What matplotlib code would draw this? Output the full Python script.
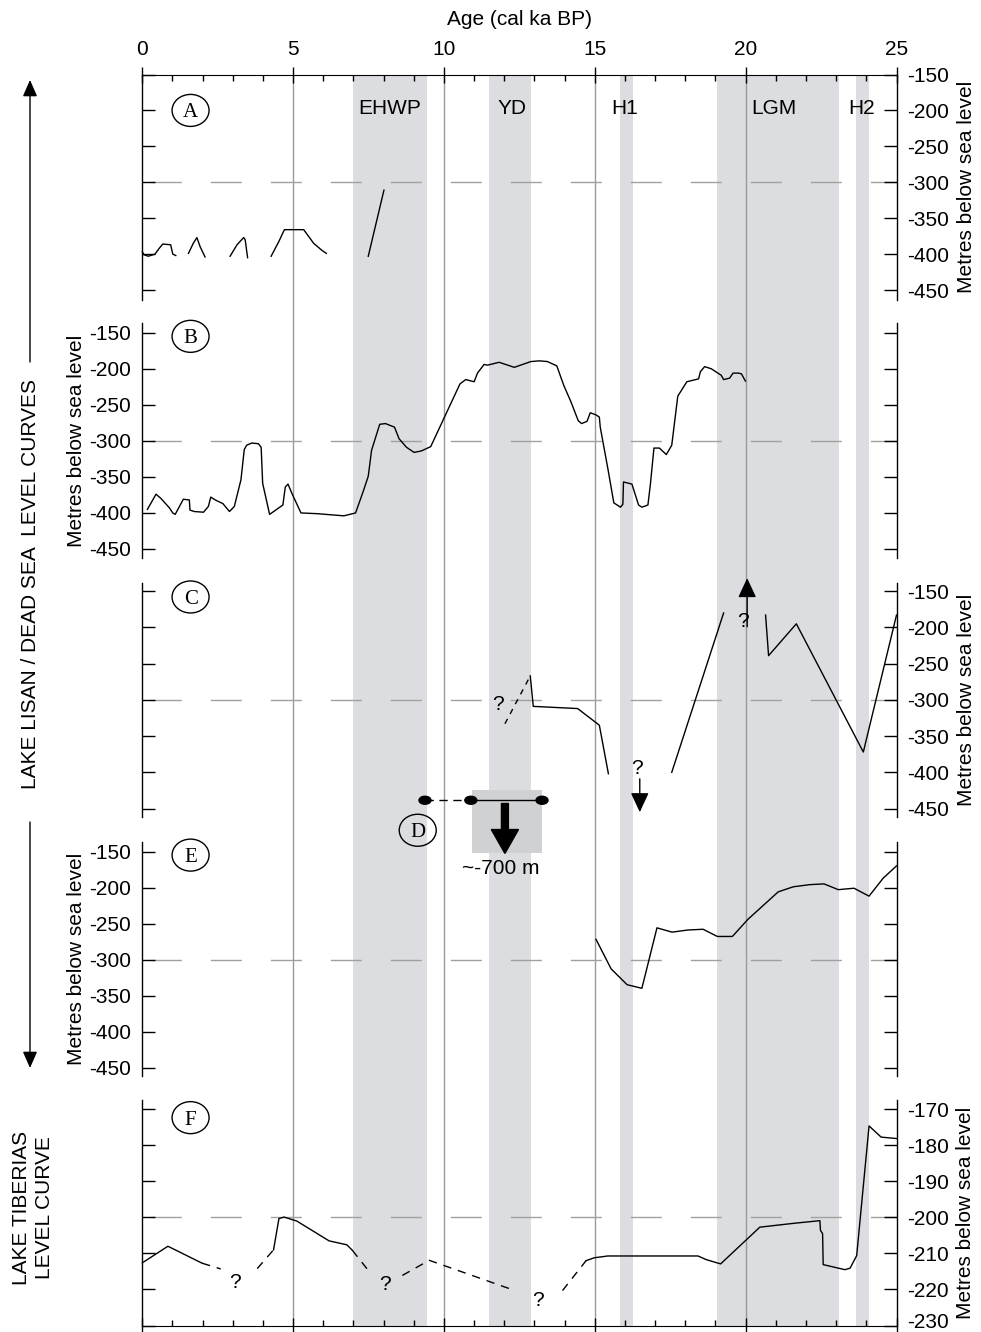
import matplotlib
matplotlib.use('Agg')
import matplotlib.pyplot as plt
from matplotlib.patches import FancyArrow, Rectangle, Ellipse
from matplotlib.ticker import MultipleLocator
from matplotlib.transforms import ScaledTranslation

plt.rcParams['font.family'] = ['Liberation Sans', 'DejaVu Sans']
plt.rcParams['axes.unicode_minus'] = False

# ---------------- data ----------------
age_ticks = [0, 5, 10, 15, 20, 25]
depth_ticks = [-450, -400, -350, -300, -250, -200, -150]
tiberias_ticks = [-230, -220, -210, -200, -190, -180, -170]

band_names = ['EHWP', 'YD', 'H1', 'LGM', 'H2']
band_start = [7.0, 11.5, 15.85, 19.05, 23.65]
band_end = [9.45, 12.9, 16.25, 23.1, 24.1]
band_label_x = [8.2, 12.25, 16.0, 20.95, 23.85]
grid_ages = [5, 10, 15, 20]

# Panel A (segments)
a1_age = [0.0, 0.06, 0.2, 0.42, 0.56, 0.68, 0.94, 1.01, 1.11]
a1_lvl = [-397, -401, -403, -400, -392, -386, -387, -400, -402]
a2_age = [1.53, 1.69, 1.81, 1.92, 2.08]
a2_lvl = [-399, -385, -377, -390, -404]
a3_age = [2.91, 3.14, 3.36, 3.41, 3.49]
a3_lvl = [-403, -387, -377, -380, -405]
a4_age = [4.27, 4.52, 4.71, 5.35, 5.68, 5.96, 6.10]
a4_lvl = [-403, -383, -366, -366, -385, -395, -399]
a5_age = [7.49, 8.01]
a5_lvl = [-403, -311]

# Panel B
b_age = [0.17, 0.455, 0.62, 0.90, 1.01, 1.09, 1.36, 1.56, 1.58, 1.72,
         2.03, 2.19, 2.27, 2.42, 2.67, 2.89, 3.05, 3.27, 3.38, 3.46,
         3.63, 3.85, 3.94, 3.99, 4.22, 4.66, 4.74, 4.83, 4.96, 5.26,
         5.79, 6.68, 7.07, 7.34, 7.49, 7.60, 7.87, 8.06, 8.36, 8.51,
         8.76, 9.01, 9.25, 9.56, 10.53, 10.72, 11.0, 11.11, 11.33, 11.44,
         11.83, 12.33, 12.88, 13.16, 13.43, 13.74, 13.97, 14.21, 14.45, 14.56,
         14.74, 14.85, 15.04, 15.15, 15.18, 15.43, 15.63, 15.85, 15.93, 15.95,
         16.23, 16.45, 16.56, 16.76, 16.84, 16.96, 17.14, 17.37, 17.55, 17.75,
         18.05, 18.44, 18.50, 18.64, 18.86, 19.19, 19.27, 19.47, 19.58, 19.75,
         19.86, 19.99]
b_lvl = [-395, -374, -380, -393, -400, -402, -381, -382, -396, -398,
         -399, -391, -378, -382, -387, -398, -391, -354, -312, -306,
         -303, -304, -309, -359, -402, -389, -364, -360, -373, -400,
         -401, -404, -400, -368, -349, -313, -277, -276, -281, -297,
         -309, -316, -314, -308, -221, -215, -218, -206, -194, -195,
         -191, -198, -190, -189, -190, -196, -223, -246, -272, -276,
         -273, -261, -264, -267, -281, -338, -386, -392, -388, -357,
         -360, -389, -392, -389, -361, -310, -310, -319, -306, -238,
         -218, -214, -204, -197, -200, -209, -215, -213, -206, -206,
         -207, -217]

# Panel C
c_q_age = [12.02, 12.86]
c_q_lvl = [-333, -267]
c1_age = [12.86, 12.96, 14.43, 15.15, 15.45]
c1_lvl = [-267, -309, -312, -335, -402]
c2_age = [17.55, 19.27]
c2_lvl = [-400, -180]
c3_age = [20.66, 20.76, 21.68, 23.9, 25.0]
c3_lvl = [-183, -239, -195, -372, -183]
c_up_age, c_up_from, c_up_to = 20.05, -199, -132
c_dn_age, c_dn_from, c_dn_to = 16.49, -409, -455
c_qmarks_age = [11.8, 19.9, 16.39]
c_qmarks_lvl = [-307, -192, -395]

# Panel D (drawn on panel C's scale)
d_age = [9.37, 10.89, 13.25]
d_lvl = -438.6
d_box_age = [10.92, 13.25]
d_box_lvl = [-425, -512]
d_arrow_age, d_arrow_from, d_arrow_to = 12.02, -443, -512
d_text = '~-700 m'

# Panel E
e_age = [15.04, 15.54, 16.07, 16.56, 17.06, 17.56, 18.09, 18.59, 19.06, 19.56,
         20.08, 21.08, 21.58, 22.13, 22.6, 23.07, 23.59, 24.09, 24.56, 25.0]
e_lvl = [-272, -313, -335, -340, -256, -262, -259, -258, -268, -268,
         -244, -206, -199, -196, -195, -203, -201, -212, -187, -170]

# Panel F (Lake Tiberias)
f1_age = [0.0, 0.85, 1.98]
f1_lvl = [-212.6, -208.0, -212.7]
fd1_age = [1.98, 2.6]
fd1_lvl = [-212.7, -214.3]
fd2_age = [3.81, 4.35]
fd2_lvl = [-214.2, -209.0]
f2_age = [4.35, 4.53, 4.70, 5.12, 6.19, 6.78, 6.96]
f2_lvl = [-209.0, -200.3, -199.9, -201.0, -206.5, -207.6, -209.1]
fd3_age = [6.96, 7.49]
fd3_lvl = [-209.1, -214.7]
fd4_age = [8.62, 9.51, 12.18]
fd4_lvl = [-216.1, -211.9, -219.8]
fd5_age = [13.93, 14.71]
fd5_lvl = [-220.3, -212.0]
f3_age = [14.71, 14.98, 15.43, 18.42, 18.69, 19.17, 20.47, 21.63, 22.46, 22.48,
          22.55, 22.57, 23.29, 23.46, 23.68, 24.09, 24.49, 25.0]
f3_lvl = [-212.0, -211.2, -210.7, -210.7, -211.7, -212.9, -202.7, -201.6, -200.9, -203.6,
          -204.5, -213.1, -214.5, -214.1, -210.6, -174.6, -177.7, -178.1]
f_qmarks_age = [3.08, 8.03, 13.13]
f_qmarks_lvl = [-218, -218.6, -223]

panel_letters = ['A', 'B', 'C', 'E', 'F']
panel_letter_lvl = [-200, -155, -158, -155, -172.3]
letter_age = 1.6

# ---------------- layout ----------------
W, H = 981, 1332
fig = plt.figure(figsize=(W / 100, H / 100), dpi=100)
X0, X1 = 142.3, 896.5
FS = 15
BAND = '#dcdde0'
GRID = '#999999'
DASHG = '#a0a0a0'


def rect(top, bottom):
    return [X0 / W, 1 - bottom / H, (X1 - X0) / W, (bottom - top) / H]


ov = fig.add_axes([0, 0, 1, 1])
ov.set_xlim(0, W)
ov.set_ylim(H, 0)
ov.axis('off')

bg = fig.add_axes(rect(74.5, 1325.5))
bg.set_xlim(0, 25)
bg.set_ylim(0, 1)
bg.axis('off')
for s, e in zip(band_start, band_end):
    bg.axvspan(s, e, color=BAND, lw=0)
for g in grid_ages:
    bg.axvline(g, color=GRID, lw=1.0)


def make_panel(top, bottom, ylim, ticks, side, ylabel=True, ref=-300):
    ax = fig.add_axes(rect(top, bottom))
    ax.set_facecolor('none')
    ax.set_xlim(0, 25)
    ax.set_ylim(*ylim)
    for s in ['top', 'bottom']:
        ax.spines[s].set_visible(False)
    for s in ['left', 'right']:
        ax.spines[s].set_linewidth(1.0)
    ax.set_yticks(ticks)
    ax.set_yticklabels([str(t) for t in ticks])
    ax.tick_params(axis='y', direction='in', length=9.5, width=1.0,
                   left=True, right=True,
                   labelleft=(side == 'left'), labelright=(side == 'right'),
                   labelsize=FS, pad=8)
    ax.set_xticks([])
    if ylabel:
        ax.yaxis.set_label_position(side)
        ax.set_ylabel('Metres below sea level', fontsize=FS,
                      labelpad=2 if side == 'left' else 5)
    ax.axhline(ref, color=DASHG, lw=1.0, linestyle=(37.2, (22.3, 20.9)), zorder=1)
    return ax


def circ_label(ax, x, y, letter, wpx=37, hpx=32):
    x0, x1 = ax.get_xlim()
    y0, y1 = ax.get_ylim()
    pos = ax.get_position()
    ew = wpx * (x1 - x0) / (pos.width * W)
    eh = hpx * (y1 - y0) / (pos.height * H)
    ax.add_patch(Ellipse((x, y), ew, eh, fill=False, ec='black', lw=1.0, clip_on=False, zorder=4))
    ax.text(x, y, letter, family='Liberation Serif', fontsize=15, ha='center',
            va='center_baseline', zorder=4, clip_on=False)


def line(ax, xs, ys, dashed=False, dash=(5, 4)):
    if dashed:
        ax.plot(xs, ys, color='black', lw=1.0, linestyle=(0, dash), zorder=3, clip_on=False)
    else:
        ax.plot(xs, ys, color='black', lw=1.0, zorder=3, clip_on=False)


# Panel A
axA = make_panel(74.5, 300, (-463.9, -150), depth_ticks, 'right')
axA.spines['top'].set_visible(True)
axA.xaxis.set_ticks_position('top')
axA.set_xticks(age_ticks)
axA.set_xticklabels([str(a) for a in age_ticks])
axA.xaxis.set_minor_locator(MultipleLocator(1))
axA.tick_params(axis='x', which='major', direction='inout', length=12, width=1.0,
                top=True, bottom=False, labeltop=True, labelbottom=False,
                labelsize=FS, pad=5.5)
axA.tick_params(axis='x', which='minor', direction='in', length=4.3, width=1.0,
                top=True, bottom=False)
axA.xaxis.set_label_position('top')
axA.set_xlabel('Age (cal ka BP)', fontsize=FS, labelpad=10.5)
for xs, ys in [(a1_age, a1_lvl), (a2_age, a2_lvl), (a3_age, a3_lvl),
               (a4_age, a4_lvl), (a5_age, a5_lvl)]:
    line(axA, xs, ys)
for name, bx in zip(band_names, band_label_x):
    axA.text(bx, -197, name, fontsize=FS, ha='center', va='center', zorder=4)

# Panel B
axB = make_panel(323, 558, (-462.5, -136.5), depth_ticks, 'left')
line(axB, b_age, b_lvl)

# Panel C
axC = make_panel(583, 817, (-461.7, -138.7), depth_ticks, 'right')
line(axC, c_q_age, c_q_lvl, dashed=True, dash=(4, 4))
for xs, ys in [(c1_age, c1_lvl), (c2_age, c2_lvl), (c3_age, c3_lvl)]:
    line(axC, xs, ys)
for qx, qy in zip(c_qmarks_age, c_qmarks_lvl):
    axC.text(qx, qy, '?', fontsize=FS, ha='center', va='center', zorder=4)
arrow_kw = dict(arrowstyle='-|>,head_length=0.6,head_width=0.28', mutation_scale=20,
                lw=1.0, color='black', shrinkA=0, shrinkB=0)
axC.annotate('', xy=(c_up_age, c_up_to), xytext=(c_up_age, c_up_from),
             arrowprops=arrow_kw, annotation_clip=False)
axC.annotate('', xy=(c_dn_age, c_dn_to), xytext=(c_dn_age, c_dn_from),
             arrowprops=arrow_kw, annotation_clip=False)

# Panel D (on C's scale)
axC.add_patch(Rectangle((d_box_age[0], d_box_lvl[1]), d_box_age[1] - d_box_age[0],
                        d_box_lvl[0] - d_box_lvl[1], fc='#d0d1d3', ec='none',
                        clip_on=False, zorder=2))
line(axC, d_age[:2], [d_lvl, d_lvl], dashed=True, dash=(6, 4))
line(axC, d_age[1:], [d_lvl, d_lvl])
pos = axC.get_position()
dw = 12 * 25 / (pos.width * W)
dh = 8 * (-138.7 + 461.7) / (pos.height * H)
for dx in d_age:
    axC.add_patch(Ellipse((dx, d_lvl), dw, dh, fc='black', ec='black', clip_on=False, zorder=4))
axC.add_patch(FancyArrow(d_arrow_age, d_arrow_from, 0, d_arrow_to - d_arrow_from,
                         width=0.23, head_width=0.9, head_length=33,
                         length_includes_head=True, color='black', clip_on=False, zorder=4))
axC.text(11.87, -533, d_text, fontsize=FS, ha='center', va='center', zorder=4)
circ_label(axC, 9.13, -480, 'D')

# Panel E
axE = make_panel(842, 1076, (-461.8, -136.8), depth_ticks, 'left')
line(axE, e_age, e_lvl)

# Panel F
axF = make_panel(1100, 1325.5, (-230, -167.4), tiberias_ticks, 'right', ref=-200)
axF.spines['bottom'].set_visible(True)
axF.set_xticks(age_ticks)
axF.xaxis.set_minor_locator(MultipleLocator(1))
axF.tick_params(axis='x', which='major', direction='inout', length=12, width=1.0,
                top=False, bottom=True, labelbottom=False)
axF.tick_params(axis='x', which='minor', direction='in', length=4.3, width=1.0,
                top=False, bottom=True)
for xs, ys in [(f1_age, f1_lvl), (f2_age, f2_lvl), (f3_age, f3_lvl)]:
    line(axF, xs, ys)
for xs, ys in [(fd1_age, fd1_lvl), (fd2_age, fd2_lvl), (fd3_age, fd3_lvl),
               (fd4_age, fd4_lvl), (fd5_age, fd5_lvl)]:
    line(axF, xs, ys, dashed=True, dash=(6, 5))
for qx, qy in zip(f_qmarks_age, f_qmarks_lvl):
    axF.text(qx, qy, '?', fontsize=FS, ha='center', va='center', zorder=4)
# keep the bottom-most tick label inside the canvas
fig.canvas.draw()
lowest = axF.yaxis.get_majorticklabels()[0]
lowest.set_transform(lowest.get_transform() + ScaledTranslation(0, 0.05, fig.dpi_scale_trans))

for ax, letter, ly in zip([axA, axB, axC, axE, axF], panel_letters, panel_letter_lvl):
    circ_label(ax, letter_age, ly, letter)

# Left side titles and arrows
fig.text(31 / W, 1 - 584 / H, 'LAKE LISAN / DEAD SEA  LEVEL CURVES', rotation=90,
         fontsize=FS, ha='center', va='center')
fig.text(33 / W, 1 - 1208 / H, 'LAKE TIBERIAS\nLEVEL CURVE', rotation=90,
         fontsize=FS, ha='center', va='center', multialignment='center')
side_kw = dict(arrowstyle='-|>,head_length=0.5,head_width=0.22', mutation_scale=20,
               lw=1.0, color='black', shrinkA=0, shrinkB=0)
ov.annotate('', xy=(30, 80), xytext=(30, 362), arrowprops=side_kw)
ov.annotate('', xy=(30, 1068), xytext=(30, 822), arrowprops=side_kw)

fig.savefig('out.png', dpi=100)
